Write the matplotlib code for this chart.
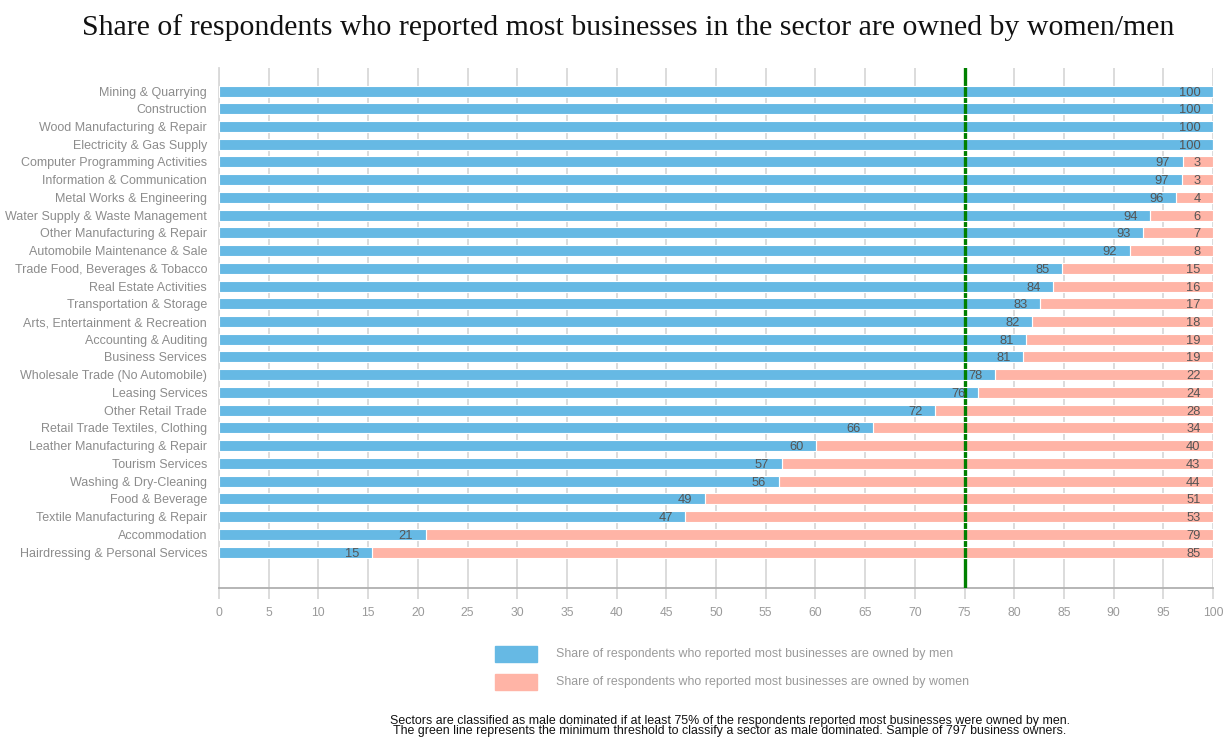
import numpy as np
import matplotlib.pyplot as plt
from matplotlib.patches import Rectangle

plt.rcParams['font.family'] = ['Liberation Sans', 'DejaVu Sans']

sectors = ["Mining & Quarrying", "Construction", "Wood Manufacturing & Repair",
           "Electricity & Gas Supply", "Computer Programming Activities",
           "Information & Communication", "Metal Works & Engineering",
           "Water Supply & Waste Management", "Other Manufacturing & Repair",
           "Automobile Maintenance & Sale", "Trade Food, Beverages & Tobacco",
           "Real Estate Activities", "Transportation & Storage",
           "Arts, Entertainment & Recreation", "Accounting & Auditing",
           "Business Services", "Wholesale Trade (No Automobile)",
           "Leasing Services", "Other Retail Trade", "Retail Trade Textiles, Clothing",
           "Leather Manufacturing & Repair", "Tourism Services",
           "Washing & Dry-Cleaning", "Food & Beverage",
           "Textile Manufacturing & Repair", "Accommodation",
           "Hairdressing & Personal Services"]
men = [100, 100, 100, 100, 96.95, 96.85, 96.3, 93.7, 93.0, 91.6, 84.8, 83.9,
       82.6, 81.8, 81.2, 80.9, 78.1, 76.4, 72.05, 65.8, 60.06, 56.6, 56.3,
       48.9, 46.9, 20.8, 15.4]
women = [100 - m for m in men]
men_labels = [100, 100, 100, 100, 97, 97, 96, 94, 93, 92, 85, 84, 83, 82, 81,
              81, 78, 76, 72, 66, 60, 57, 56, 49, 47, 21, 15]
women_labels = [0, 0, 0, 0, 3, 3, 4, 6, 7, 8, 15, 16, 17, 18, 19, 19, 22, 24,
                28, 34, 40, 43, 44, 51, 53, 79, 85]
threshold = 75

blue = '#66b9e4'
pink = '#ffb4a6'

fig = plt.figure(figsize=(12.25, 7.38), dpi=100)
ax = fig.add_axes([219/1225, 1-588/738, (1213-219)/1225, (588-68)/738])

y = np.arange(len(sectors))
h = 0.62
ax.barh(y, men, height=h, color=blue, zorder=2)
ax.barh(y, women, left=men, height=h, color=pink, zorder=2)
ax.axvline(threshold, color='#008000', lw=2.4, zorder=3)
# white bar outlines cut the green line like in the original
ax.barh(y, men, height=h, facecolor='none', edgecolor='white', lw=0.8, zorder=4)
ax.barh(y, women, left=men, height=h, facecolor='none', edgecolor='white', lw=0.8, zorder=4)

for i in range(len(sectors)):
    ax.annotate(str(men_labels[i]), (men[i], y[i]), xytext=(-9, 0),
                textcoords='offset points', ha='right', va='center_baseline',
                fontsize=9.3, color='#555555', zorder=5)
    if women_labels[i] > 0:
        ax.annotate(str(women_labels[i]), (100, y[i]), xytext=(-9, 0),
                    textcoords='offset points', ha='right', va='center_baseline',
                    fontsize=9.3, color='#555555', zorder=5)

ax.set_xlim(0, 100)
ax.set_ylim(len(sectors) - 1 + 2.03, -1.3)
ax.set_xticks(np.arange(0, 101, 5))
ax.set_yticks(y)
ax.set_yticklabels(sectors)
ax.grid(axis='x', color='#d9d9d9', lw=1.3, zorder=0)
ax.tick_params(axis='y', length=0, pad=8.5, labelsize=9, labelcolor='#8c8c8c')
ax.tick_params(axis='x', length=8, width=1.3, color='#d9d9d9', pad=6,
               labelsize=8.7, labelcolor='#9a9a9a')
for s in ['top', 'right']:
    ax.spines[s].set_visible(False)
ax.spines['left'].set_color('#d9d9d9')
ax.spines['left'].set_linewidth(1.3)
ax.spines['bottom'].set_color('#b0b0b0')
ax.spines['bottom'].set_linewidth(1.3)

fig.text(628/1225, 1-28/738,
         "Share of respondents who reported most businesses in the sector are owned by women/men",
         ha='center', va='center', fontsize=21.5, family='Liberation Serif', color='#111111')

# legend
fig.add_artist(Rectangle((495/1225, 1-662/738), 42/1225, 16/738,
                         transform=fig.transFigure, color=blue))
fig.add_artist(Rectangle((495/1225, 1-690/738), 42/1225, 16/738,
                         transform=fig.transFigure, color=pink))
fig.text(556/1225, 1-654/738, "Share of respondents who reported most businesses are owned by men",
         ha='left', va='center', fontsize=8.9, color='#9a9a9a')
fig.text(556/1225, 1-682/738, "Share of respondents who reported most businesses are owned by women",
         ha='left', va='center', fontsize=8.9, color='#9a9a9a')

fig.text(730/1225, 1-721/738,
         "Sectors are classified as male dominated if at least 75% of the respondents reported most businesses were owned by men.",
         ha='center', va='center', fontsize=8.9, color='#111111')
fig.text(730/1225, 1-731/738,
         "The green line represents the minimum threshold to classify a sector as male dominated. Sample of 797 business owners.",
         ha='center', va='center', fontsize=8.9, color='#111111')

fig.savefig('out.png', dpi=100)
